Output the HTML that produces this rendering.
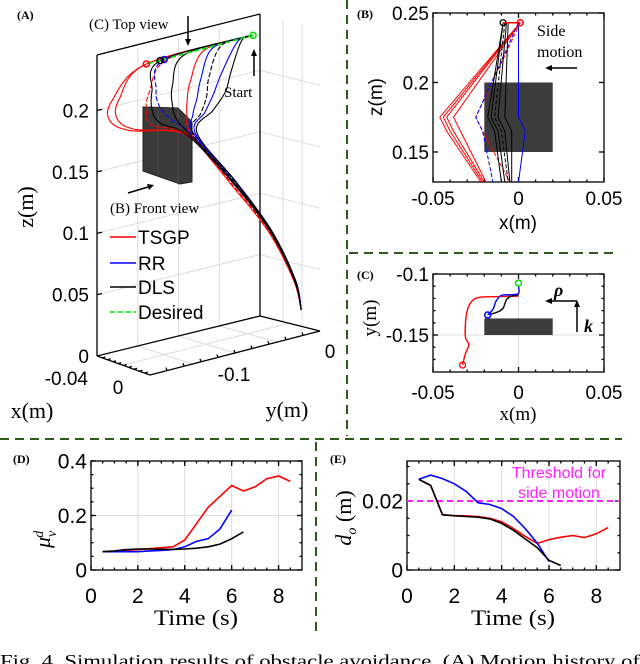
<!DOCTYPE html>
<html><head><meta charset="utf-8"><style>
html,body{margin:0;padding:0;background:#fff;}
svg{display:block;}
</style></head><body>
<svg id="fig" width="640" height="664" viewBox="0 0 640 664" xmlns="http://www.w3.org/2000/svg" font-family="Liberation Sans, sans-serif">
<g id="sep" stroke="#2e5a1c" stroke-width="2" stroke-dasharray="9,6" fill="none">
<line x1="347" y1="0" x2="347" y2="436"/>
<line x1="349" y1="253" x2="616" y2="253"/>
<line x1="0" y1="439" x2="622" y2="439"/>
<line x1="316" y1="442" x2="316" y2="632"/>
</g>
<text x="0" y="667" font-family="Liberation Serif, serif" font-size="18" textLength="640" lengthAdjust="spacingAndGlyphs">Fig. 4.    Simulation results of obstacle avoidance. (A) Motion history of</text>
</svg>
<script>
// ---------- data ----------
const dTime = [0.5,1,1.5,2,2.5,3,3.5,4,4.5,5,5.5,6,6.5,7,7.5,8,8.5];
const dRed = [0.067,0.068,0.072,0.075,0.078,0.082,0.085,0.11,0.17,0.23,0.27,0.31,0.29,0.305,0.335,0.345,0.325];
const dBlue = [0.067,0.067,0.067,0.067,0.07,0.072,0.075,0.085,0.105,0.115,0.15,0.22];
const dBlack = [0.067,0.07,0.075,0.077,0.077,0.076,0.076,0.077,0.08,0.085,0.095,0.115,0.14];
const dYTicks = [0,0.2,0.4];
const timeTicks = [0,2,4,6,8];
const eRed = [0.0263,0.0245,0.016,0.0158,0.0157,0.0155,0.015,0.014,0.012,0.0097,0.0077,0.0088,0.0095,0.01,0.0094,0.0105,0.0123];
const eBlue = [0.0263,0.0275,0.0265,0.025,0.0228,0.0195,0.019,0.0178,0.0155,0.012,0.0078,0.0025];
const eBlack = [0.0263,0.0245,0.016,0.0157,0.0155,0.0153,0.0148,0.0135,0.0115,0.009,0.0065,0.0028,0.0013];
const eThreshold = 0.02;
const eYTicks = [0,0.02];
// Panel B: x at bulge (z=0.175) and x at bottom, start x
const bColors = ['red','red','red','red','red','blue','blue','black','black','black','black','black'];
const bStartX = [0.001,0.001,0.001,0.001,0.001,0,0,-0.009,-0.009,-0.008,-0.007,-0.006];
const bMidX = [-0.046,-0.044,-0.042,-0.038,-0.025,-0.025,0,-0.018,-0.016,-0.014,-0.012,-0.008];
const bBotX = [-0.022,-0.021,-0.020,-0.019,-0.005,-0.015,0,-0.010,-0.008,-0.006,-0.005,-0.004];
// Panel C
const cBlueX = [0,0,-0.005,-0.01,-0.013,-0.015,-0.018];
const cBlueY = [-0.1098,-0.116,-0.117,-0.1175,-0.122,-0.129,-0.1336];
const cBlackX = [0,-0.004,-0.007,-0.009,-0.012,-0.017];
const cBlackY = [-0.117,-0.118,-0.121,-0.128,-0.131,-0.1333];
const cRedX = [0,-0.01,-0.022,-0.027,-0.03,-0.031,-0.031,-0.029,-0.031,-0.0327];
const cRedY = [-0.118,-0.1185,-0.119,-0.122,-0.13,-0.14,-0.152,-0.158,-0.165,-0.1746];
// Panel A (3D): shared z levels, per-trajectory y values (x=0)
const aZ = [0.241,0.218,0.2025,0.19,0.175,0.128,0.081,0.035,0.0097];
const aStart = [0,-0.041,0.243];
const aColors = ['red','red','red','red','blue','blue','blue','black','black','black','black'];
const aDash = [false,false,true,false,true,false,false,false,false,true,false];
const aY = [
 [-0.172,-0.214,-0.217,-0.192,-0.122,-0.066,-0.020,0.0104,0.018],
 [-0.172,-0.205,-0.208,-0.186,-0.121,-0.067,-0.021,0.010,0.018],
 [-0.145,-0.168,-0.172,-0.165,-0.120,-0.069,-0.022,0.009,0.018],
 [-0.100,-0.118,-0.122,-0.122,-0.117,-0.070,-0.023,0.009,0.018],
 [-0.150,-0.160,-0.155,-0.140,-0.117,-0.065,-0.019,0.011,0.018],
 [-0.090,-0.105,-0.110,-0.115,-0.114,-0.063,-0.019,0.011,0.018],
 [-0.060,-0.080,-0.090,-0.100,-0.112,-0.063,-0.019,0.011,0.018],
 [-0.155,-0.165,-0.165,-0.155,-0.122,-0.067,-0.021,0.010,0.018],
 [-0.125,-0.140,-0.140,-0.135,-0.119,-0.066,-0.020,0.010,0.018],
 [-0.080,-0.095,-0.098,-0.105,-0.115,-0.064,-0.020,0.010,0.018],
 [-0.055,-0.068,-0.075,-0.090,-0.110,-0.063,-0.019,0.011,0.018]];
const aMarkers = [0,4,7];
const legendNames = ['TSGP','RR','DLS','Desired'];
const legendColors = ['red','blue','black','#00dd00'];

// ---------- helpers ----------
const NS='http://www.w3.org/2000/svg';
const svg=document.getElementById('fig');
function mk(tag,attrs,name,parent){
  const el=document.createElementNS(NS,tag);
  for(const k in attrs) el.setAttribute(k,attrs[k]);
  
  
  (parent||svg).appendChild(el);
  return el;
}
function txt(s,x,y,o,name,parent){
  const a=Object.assign({x:x,y:y},o||{});
  const t=mk('text',a,name,parent);
  t.textContent=s;
  return t;
}
function line(x1,y1,x2,y2,st,name,parent){
  return mk('line',Object.assign({x1:x1,y1:y1,x2:x2,y2:y2},st),name,parent);
}
function poly(pts,st,name,parent){
  return mk('polyline',Object.assign({points:pts.map(p=>p[0].toFixed(1)+','+p[1].toFixed(1)).join(' '),fill:'none'},st),name,parent);
}
function smooth(pts){
  let d='M'+pts[0][0].toFixed(1)+','+pts[0][1].toFixed(1);
  for(let i=0;i<pts.length-1;i++){
    const p0=pts[Math.max(i-1,0)],p1=pts[i],p2=pts[i+1],p3=pts[Math.min(i+2,pts.length-1)];
    const c1=[p1[0]+(p2[0]-p0[0])/6,p1[1]+(p2[1]-p0[1])/6];
    const c2=[p2[0]-(p3[0]-p1[0])/6,p2[1]-(p3[1]-p1[1])/6];
    d+=' C'+c1[0].toFixed(1)+','+c1[1].toFixed(1)+' '+c2[0].toFixed(1)+','+c2[1].toFixed(1)+' '+p2[0].toFixed(1)+','+p2[1].toFixed(1);
  }
  return d;
}
const SERIF='Liberation Serif, serif';
const GRID={stroke:'#dcdcdc','stroke-width':1};
const AX={stroke:'#000','stroke-width':1.3};

// ---------- generic 2D axes ----------
function axes2d(o){
  const g=mk('g',{},o.name);
  const sx=v=>o.x0+(v-o.xmin)/(o.xmax-o.xmin)*(o.x1-o.x0);
  const sy=v=>o.y1-(v-o.ymin)/(o.ymax-o.ymin)*(o.y1-o.y0);
  (o.xgrid||[]).forEach(v=>line(sx(v),o.y0,sx(v),o.y1,GRID,'x-gridline',g));
  (o.ygrid||[]).forEach(v=>line(o.x0,sy(v),o.x1,sy(v),GRID,'y-gridline',g));
  mk('rect',{x:o.x0,y:o.y0,width:o.x1-o.x0,height:o.y1-o.y0,fill:'none',stroke:'#000','stroke-width':1.3},'plot-frame',g);
  (o.xminor||[]).forEach(v=>{line(sx(v),o.y1,sx(v),o.y1-2.5,AX,'x-minor-tick',g);line(sx(v),o.y0,sx(v),o.y0+2.5,AX,'x-minor-tick',g);});
  (o.yminor||[]).forEach(v=>{line(o.x0,sy(v),o.x0+2.5,sy(v),AX,'y-minor-tick',g);line(o.x1,sy(v),o.x1-2.5,sy(v),AX,'y-minor-tick',g);});
  o.xticks.forEach((v,i)=>{line(sx(v),o.y1,sx(v),o.y1-5,AX,'x-tick',g);line(sx(v),o.y0,sx(v),o.y0+5,AX,'x-tick',g);
    const lab=o.xlabels?o.xlabels[i]:String(v);
    txt(lab,sx(v),o.xly,{'font-size':o.fs,'text-anchor':'middle'},'x-tick-label',g);});
  o.yticks.forEach((v,i)=>{line(o.x0,sy(v),o.x0+5,sy(v),AX,'y-tick',g);line(o.x1,sy(v),o.x1-5,sy(v),AX,'y-tick',g);
    const lab=o.ylabels?o.ylabels[i]:String(v);
    txt(lab,o.x0-4,sy(v)+o.fs*0.36,{'font-size':o.fs,'text-anchor':'end'},'y-tick-label',g);});
  return {g,sx,sy};
}

// ---------- Panel D ----------
(function(){
  const minor=[];for(let v=0.5;v<9;v+=0.5)minor.push(v);
  const yminor=[];for(let v=0.05;v<0.4;v+=0.05)yminor.push(v);
  const A=axes2d({name:'panel-d-axes',x0:91,x1:302,y0:461,y1:570,xmin:0,xmax:9,ymin:0,ymax:0.4,
    xticks:timeTicks,yticks:dYTicks,xgrid:[2,4,6,8],ygrid:[0.2],xminor:minor,yminor:yminor,fs:21,xly:603});
  [[dRed,'red','tsgp-line'],[dBlue,'blue','rr-line'],[dBlack,'black','dls-line']].forEach(s=>{
    poly(s[0].map((v,i)=>[A.sx(dTime[i]),A.sy(v)]),{stroke:s[1],'stroke-width':1.6},'panel-d-'+s[2],A.g);
  });
  txt('(D)',13,463,{'font-size':12,'font-weight':'bold','font-family':SERIF},'panel-d-label');
  const t=mk('text',{x:0,y:0,'font-size':22,'font-family':SERIF,'font-style':'italic',transform:'translate(50,548) rotate(-90)'},'panel-d-y-axis-title');
  t.innerHTML='μ<tspan font-size="14" dy="6">v</tspan><tspan font-size="14" dy="-13" dx="-7">d</tspan>';
  txt('Time (s)',196,625,{'font-size':22,'font-family':SERIF,'text-anchor':'middle',textLength:84,lengthAdjust:'spacingAndGlyphs'},'panel-d-x-axis-title');
})();

// ---------- Panel E ----------
(function(){
  const minor=[];for(let v=0.5;v<9;v+=0.5)minor.push(v);
  const yminor=[];for(let v=0.005;v<0.031;v+=0.005)yminor.push(v);
  const A=axes2d({name:'panel-e-axes',x0:407,x1:620,y0:461,y1:570,xmin:0,xmax:9,ymin:0,ymax:0.0316,
    xticks:timeTicks,yticks:eYTicks,xgrid:[2,4,6,8],ygrid:[],xminor:minor,yminor:yminor,fs:21,xly:603});
  line(A.sx(0),A.sy(eThreshold),A.sx(9),A.sy(eThreshold),{stroke:'#ff22ff','stroke-width':2,'stroke-dasharray':'6,4'},'threshold-line',A.g);
  [[eRed,'red','tsgp-line'],[eBlue,'blue','rr-line'],[eBlack,'black','dls-line']].forEach(s=>{
    poly(s[0].map((v,i)=>[A.sx(dTime[i]),A.sy(v)]),{stroke:s[1],'stroke-width':1.6},'panel-e-'+s[2],A.g);
  });
  txt('Threshold for',559,478,{'font-size':16,fill:'#ff22ff','text-anchor':'middle'},'threshold-label-line1');
  txt('side motion',559,498,{'font-size':16,fill:'#ff22ff','text-anchor':'middle'},'threshold-label-line2');
  txt('(E)',330,463,{'font-size':12,'font-weight':'bold','font-family':SERIF},'panel-e-label');
  const t=mk('text',{x:0,y:0,'font-size':22,'font-family':SERIF,'font-style':'italic','text-anchor':'middle',transform:'translate(351,518) rotate(-90)'},'panel-e-y-axis-title');
  t.innerHTML='d<tspan font-size="14" dy="5">o</tspan><tspan dy="-5" font-style="normal"> (m)</tspan>';
  txt('Time (s)',513,625,{'font-size':22,'font-family':SERIF,'text-anchor':'middle',textLength:84,lengthAdjust:'spacingAndGlyphs'},'panel-e-x-axis-title');
})();

// ---------- Panel B ----------
(function(){
  const xminor=[-0.04,-0.03,-0.02,-0.01,0.01,0.02,0.03,0.04];
  const A=axes2d({name:'panel-b-axes',x0:433,x1:604,y0:13,y1:182,xmin:-0.05,xmax:0.05,ymin:0.1284,ymax:0.25,
    xticks:[-0.05,0,0.05],yticks:[0.15,0.2,0.25],xminor:xminor,yminor:[],fs:19,xly:205});
  mk('rect',{x:A.sx(-0.02),y:A.sy(0.2),width:A.sx(0.02)-A.sx(-0.02),height:A.sy(0.15)-A.sy(0.2),fill:'#3c3c3c'},'obstacle-front',A.g);
  bColors.forEach((c,i)=>{
    const pts=[[A.sx(bStartX[i]),A.sy(0.243)],[A.sx(bMidX[i]),A.sy(0.175)],[A.sx(bMidX[i]+0.004),A.sy(0.165)],[A.sx(bBotX[i]),A.sy(0.1284)]];
    poly(pts,{stroke:c,'stroke-width':1,'stroke-dasharray':(i==4||i==5||i==9)?'4,2':'none'},'panel-b-trajectory',A.g);
  });
  mk('circle',{cx:A.sx(-0.009),cy:A.sy(0.243),r:3,fill:'none',stroke:'black','stroke-width':1.3},'panel-b-end-marker',A.g);
  mk('circle',{cx:A.sx(0.001),cy:A.sy(0.243),r:3,fill:'none',stroke:'red','stroke-width':1.5},'panel-b-end-marker',A.g);
  line(A.sx(-0.009),A.sy(0.243),A.sx(0.001),A.sy(0.243),{stroke:'red','stroke-width':1.5},'panel-b-top-line',A.g);
  txt('(B)',357,18,{'font-size':12,'font-weight':'bold','font-family':SERIF},'panel-b-label');
  txt('z(m)',0,0,{'font-size':19,'text-anchor':'middle',transform:'translate(382,97) rotate(-90)'},'panel-b-y-axis-title');
  txt('x(m)',518,229,{'font-size':19,'text-anchor':'middle'},'panel-b-x-axis-title');
  txt('Side',537,36,{'font-size':16,'font-family':SERIF},'side-motion-label-1');
  txt('motion',537,57,{'font-size':16,'font-family':SERIF},'side-motion-label-2');
  line(577,68,549,68,{stroke:'#000','stroke-width':1.5},'side-motion-arrow');
  mk('polygon',{points:'545,68 552,65 552,71',fill:'#000'},'side-motion-arrowhead');
})();

// ---------- Panel C ----------
(function(){
  const A=axes2d({name:'panel-c-axes',x0:433,x1:604,y0:274,y1:372,xmin:-0.05,xmax:0.05,ymin:-0.1803,ymax:-0.1,
    xticks:[-0.05,0,0.05],yticks:[-0.15,-0.1],xgrid:[0],ygrid:[-0.15],
    xminor:[-0.04,-0.03,-0.02,-0.01,0.01,0.02,0.03,0.04],yminor:[-0.11,-0.12,-0.13,-0.14,-0.16,-0.17],fs:19,xly:399});
  mk('rect',{x:A.sx(-0.02),y:A.sy(-0.1364),width:A.sx(0.02)-A.sx(-0.02),height:A.sy(-0.15)-A.sy(-0.1364),fill:'#3c3c3c'},'obstacle-top',A.g);
  [[cRedX,cRedY,'red','tsgp'],[cBlackX,cBlackY,'black','dls'],[cBlueX,cBlueY,'blue','rr']].forEach(s=>{
    mk('path',{d:smooth(s[0].map((v,i)=>[A.sx(v),A.sy(s[1][i])])),fill:'none',stroke:s[2],'stroke-width':1.4},'panel-c-'+s[3]+'-trajectory',A.g);
  });
  mk('circle',{cx:A.sx(cRedX[cRedX.length-1]),cy:A.sy(cRedY[cRedY.length-1]),r:3,fill:'none',stroke:'red','stroke-width':1.3},'panel-c-red-marker',A.g);
  mk('circle',{cx:A.sx(cBlueX[cBlueX.length-1]),cy:A.sy(cBlueY[cBlueY.length-1]),r:3,fill:'none',stroke:'blue','stroke-width':1.5},'panel-c-blue-marker',A.g);
  mk('circle',{cx:A.sx(0),cy:A.sy(-0.1075),r:3,fill:'none',stroke:'#00dd00','stroke-width':1.5},'panel-c-start-marker',A.g);
  txt('(C)',357,279,{'font-size':12,'font-weight':'bold','font-family':SERIF},'panel-c-label');
  txt('y(m)',0,0,{'font-size':19,'font-family':SERIF,'text-anchor':'middle',transform:'translate(376,318) rotate(-90)'},'panel-c-y-axis-title');
  txt('x(m)',518,420,{'font-size':19,'font-family':SERIF,'text-anchor':'middle'},'panel-c-x-axis-title');
  line(577,332,577,305,{stroke:'#000','stroke-width':1.5},'k-arrow');
  mk('polygon',{points:'577,300 574,307 580,307',fill:'#000'},'k-arrowhead');
  line(577,301,549,301,{stroke:'#000','stroke-width':1.5},'rho-arrow');
  mk('polygon',{points:'545,301 552,298 552,304',fill:'#000'},'rho-arrowhead');
  txt('ρ',554,296,{'font-size':18,'font-weight':'bold','font-style':'italic','font-family':SERIF},'rho-label');
  txt('k',584,332,{'font-size':18,'font-weight':'bold','font-style':'italic','font-family':SERIF},'k-label');
})();

// ---------- Panel A (3D) ----------
(function(){
  const g=mk('g',{},'panel-a-3d-axes');
  const P=(x,y,z)=>{const a=(x+0.05)/0.1,u=(y+0.2)/0.2;return [97+53*a+163*u,356+19*a-40*u-1228*z];};
  [0.05,0.1,0.15,0.2].forEach(z=>{line(97,356-1228*z,260,316-1228*z,GRID,'back-wall-gridline',g);line(260,316-1228*z,320,331-1228*z,GRID,'side-wall-gridline',g);});
  [0.25,0.5,0.75].forEach(u=>line(97+163*u,356-40*u,97+163*u,55-40*u+3,GRID,'back-wall-gridline',g));
  line(283,322,283,20,GRID,'side-wall-gridline',g);line(302,326,302,25,GRID,'side-wall-gridline',g);
  [0.25,0.5,0.75].forEach(u=>line(97+163*u,356-40*u,150+170*u,375-44*u,GRID,'floor-gridline',g));
  line(123,365,290,323,GRID,'floor-gridline',g);
  [[97,55,97,356],[260,14,260,316],[97,55,260,14],[97,356,260,316],[260,316,320,331],[97,356,150,375],[150,375,320,331]].forEach(l=>line(l[0],l[1],l[2],l[3],AX,'3d-axis-edge',g));
  [0.05,0.1,0.15,0.2].forEach(z=>line(97,356-1228*z,102,355-1228*z,AX,'z-tick',g));
  [0,0.05,0.1,0.15,0.2].forEach((z,i)=>txt(['0','0.05','0.1','0.15','0.2'][i],89,356-1228*z+7,{'font-size':19,'text-anchor':'end'},'z-tick-label',g));
  for(let k=1;k<10;k++){const x=97+53*k/10,y=356+19*k/10;line(x,y,x+3,y-1,AX,'x-tick',g);}
  for(let k=1;k<10;k++){const x=150+170*k/10,y=375-44*k/10;line(x,y,x-1,y-3,AX,'y-tick',g);}
  txt('-0.04',88,385,{'font-size':19,'text-anchor':'end'},'x-tick-label',g);
  txt('0',118,394,{'font-size':19,'text-anchor':'middle'},'x-tick-label',g);
  txt('-0.1',234,381,{'font-size':19,'text-anchor':'middle'},'y-tick-label',g);
  txt('0',330,358,{'font-size':19,'text-anchor':'middle'},'y-tick-label',g);
  txt('x(m)',32,418,{'font-size':22,'font-family':SERIF,'text-anchor':'middle'},'x-axis-title',g);
  txt('y(m)',287,417,{'font-size':22,'font-family':SERIF,'text-anchor':'middle'},'y-axis-title',g);
  txt('z(m)',0,0,{'font-size':22,'font-family':SERIF,'text-anchor':'middle',transform:'translate(33,207) rotate(-90)'},'z-axis-title',g);
  mk('polygon',{points:'143,107 178,108 192,122 192,182 180,184 143,171',fill:'#3a3a3a',stroke:'#222','stroke-width':1},'obstacle-3d',g);
  line(158,112,158,175,{stroke:'#555','stroke-width':0.8},'obstacle-edge',g);
  line(178,108,178,183,{stroke:'#555','stroke-width':0.8},'obstacle-edge',g);
  const st=P(aStart[0],aStart[1],aStart[2]);
  aY.forEach((ys,i)=>{
    const pts=[st].concat(ys.map((y,j)=>P(0,y,aZ[j])));
    mk('path',{d:smooth(pts),fill:'none',stroke:aColors[i],'stroke-width':1.1,'stroke-dasharray':aDash[i]?'5,2':'none'},'panel-a-trajectory',g);
  });
  const first=aY[0];
  line(st[0],st[1],P(0,first[0],aZ[0])[0],P(0,first[0],aZ[0])[1],{stroke:'#00dd00','stroke-width':1.8,'stroke-dasharray':'5,3'},'desired-trajectory',g);
  aMarkers.forEach(i=>{const p=P(0,aY[i][0],aZ[0]);mk('circle',{cx:p[0],cy:p[1],r:3,fill:'none',stroke:aColors[i],'stroke-width':1.5},'trajectory-end-marker',g);});
  mk('circle',{cx:st[0],cy:st[1],r:3,fill:'none',stroke:'#00dd00','stroke-width':1.5},'start-marker',g);
  txt('(A)',17,19,{'font-size':12,'font-weight':'bold','font-family':SERIF},'panel-a-label');
  txt('(C) Top view',89,29,{'font-size':15,'font-family':SERIF},'top-view-label');
  line(188,16,188,41,{stroke:'#000','stroke-width':1.5},'top-view-arrow');
  mk('polygon',{points:'188,46 185,39 191,39',fill:'#000'},'top-view-arrowhead');
  txt('Start',224,97,{'font-size':15,'font-family':SERIF},'start-label');
  line(254,76,254,54,{stroke:'#000','stroke-width':1.5},'start-arrow');
  mk('polygon',{points:'254,49 251,56 257,56',fill:'#000'},'start-arrowhead');
  txt('(B) Front view',110,213,{'font-size':15,'font-family':SERIF},'front-view-label');
  line(128,193,148,187,{stroke:'#000','stroke-width':1.5},'front-view-arrow');
  mk('polygon',{points:'154,185 147,184 149,190',fill:'#000'},'front-view-arrowhead');
  const lg=mk('g',{},'legend');
  legendNames.forEach((n,i)=>{
    const y=[237,263,287,312][i];
    line(110,y,136,y,{stroke:legendColors[i],'stroke-width':1.5,'stroke-dasharray':i==3?'5,3':'none'},'legend-swatch-'+n.toLowerCase(),lg);
    txt(n,138,y+7,{'font-size':19},'legend-entry-'+n.toLowerCase(),lg);
  });
})();
</script>
</body></html>
